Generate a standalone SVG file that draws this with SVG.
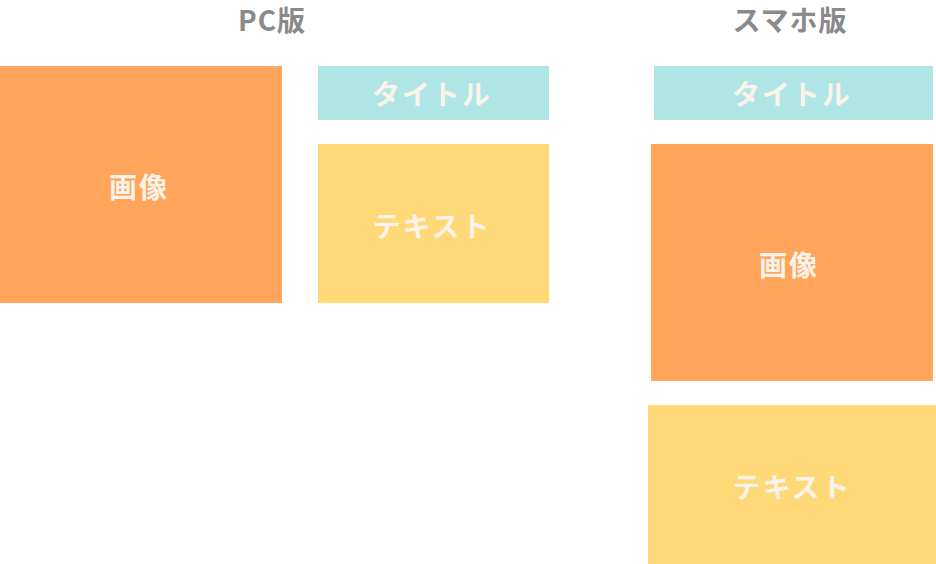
<svg xmlns="http://www.w3.org/2000/svg" width="936" height="564" viewBox="0 0 936 564">
<style>
.hd{font-family:"Noto Sans CJK JP","Noto Sans",sans-serif;font-weight:bold;font-size:28px;fill:#8a8a8a;text-anchor:middle;letter-spacing:1px}
.lb{font-family:"Noto Sans CJK JP","Noto Sans",sans-serif;font-weight:bold;font-size:28px;fill:#faf3ea;text-anchor:middle;dominant-baseline:central;letter-spacing:2px}
.img{fill:#ffa55c}
.ttl{fill:#afe5e4}
.txt{fill:#ffd878}
</style>
<rect width="936" height="564" fill="#ffffff"/>
<text class="hd" x="272" y="31">PC版</text>
<text class="hd" x="790" y="31">スマホ版</text>
<g id="pc-image"><rect class="img" x="0" y="66" width="282" height="237"/><text class="lb" x="139" y="186">画像</text></g>
<g id="pc-title"><rect class="ttl" x="318" y="66" width="231" height="54"/><text class="lb" x="432" y="93">タイトル</text></g>
<g id="pc-text"><rect class="txt" x="318" y="144" width="231" height="159"/><text class="lb" x="432" y="225">テキスト</text></g>
<g id="sp-title"><rect class="ttl" x="654" y="66" width="279" height="54"/><text class="lb" x="792" y="93">タイトル</text></g>
<g id="sp-image"><rect class="img" x="651" y="144" width="282" height="237"/><text class="lb" x="789" y="264">画像</text></g>
<g id="sp-text"><rect class="txt" x="648" y="405" width="288" height="159"/><text class="lb" x="792" y="486">テキスト</text></g>
<g id="connectors"></g>
</svg>
